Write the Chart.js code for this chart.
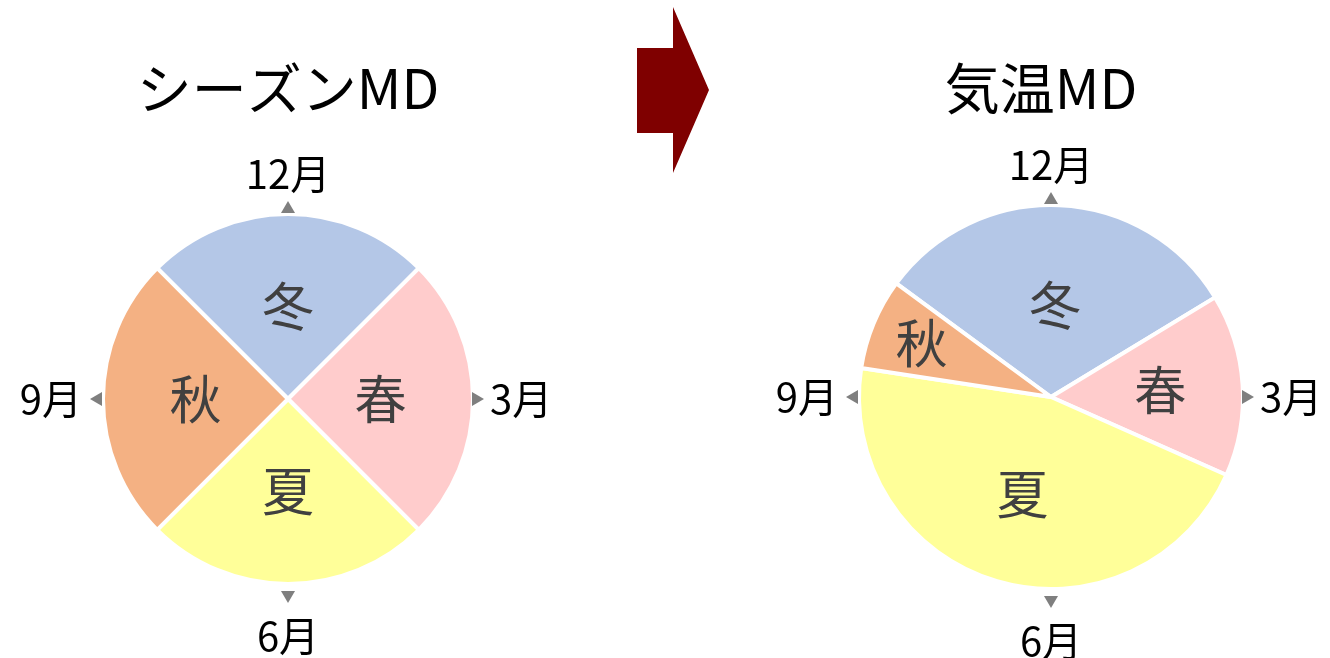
<!doctype html>
<html lang="ja">
  <head>
    <meta charset="utf-8">
    <title>シーズンMD → 気温MD</title>
    <style>
      * {
        margin: 0;
        padding: 0;
      }
      body {
        width: 1330px;
        height: 658px;
        background: #fff;
        position: relative;
        overflow: hidden;
      }
      .chartBox {
        position: absolute;
        top: 0;
        height: 658px;
      }
      #leftBox { left: 0; width: 600px; }
      #rightBox { left: 660px; width: 670px; }
      .arrow {
        position: absolute;
        left: 637px;
        top: 7px;
        width: 72px;
        height: 166px;
        background: #7f0000;
        clip-path: polygon(0 41px, 36px 41px, 36px 0, 72px 83px, 36px 166px, 36px 126px, 0 126px);
      }
    </style>
  </head>
  <body>
    <div class="chartBox" id="leftBox"><canvas id="seasonChart" width="600" height="658"></canvas></div>
    <div class="arrow"></div>
    <div class="chartBox" id="rightBox"><canvas id="tempChart" width="670" height="658"></canvas></div>

    <script src="https://cdn.jsdelivr.net/npm/chart.js/dist/chart.umd.min.js"></script>
    <script>
// data
const seasons = ['冬', '春', '夏', '秋'];
const seasonColors = ['#B4C7E7', '#FFCCCC', '#FFFF99', '#F4B183'];
const seasonMdMonths = [3, 3, 3, 3];          // シーズンMD: equal quarters
const tempMdDays = [114, 56, 167, 28];        // 気温MD: length of each season (days)
const monthTicks = ['12月', '3月', '6月', '9月']; // top, right, bottom, left

const FONT = '"Noto Sans CJK JP", "Noto Sans", sans-serif';

// draws titles, season names inside slices and the month markers round the pie
const seasonDecor = {
  id: 'seasonDecor',
  afterDatasetsDraw(chart, args, opts) {
    const ctx = chart.ctx;
    const arcs = chart.getDatasetMeta(0).data;
    const first = arcs[0].getProps(['x', 'y', 'outerRadius'], true);
    const cx = first.x, cy = first.y, R = first.outerRadius;

    ctx.save();
    ctx.textAlign = 'center';
    ctx.textBaseline = 'middle';

    // title
    ctx.fillStyle = '#000';
    ctx.font = '55px ' + FONT;
    ctx.fillText(opts.title, cx + opts.titleDx, 88);

    // season names
    ctx.fillStyle = '#404040';
    ctx.font = '52px ' + FONT;
    arcs.forEach((arc, i) => {
      const p = arc.getProps(['startAngle', 'endAngle'], true);
      const mid = (p.startAngle + p.endAngle) / 2;
      const r = R * opts.labelRadius[i];
      ctx.fillText(chart.data.labels[i], cx + Math.cos(mid) * r, cy + Math.sin(mid) * r);
    });

    // month markers
    const dirs = [[0, -1], [1, 0], [0, 1], [-1, 0]];
    const markGap = [7, 5, 13, 7];
    const textGap = [40, 17, 52, 21];
    ctx.font = '40px ' + FONT;
    dirs.forEach((d, i) => {
      const m = R + markGap[i];
      const tx = cx + d[0] * m, ty = cy + d[1] * m;
      const px = -d[1], py = d[0];
      ctx.fillStyle = '#7f7f7f';
      ctx.beginPath();
      ctx.moveTo(tx + d[0] * 6, ty + d[1] * 6);
      ctx.lineTo(tx - d[0] * 6 + px * 7, ty - d[1] * 6 + py * 7);
      ctx.lineTo(tx - d[0] * 6 - px * 7, ty - d[1] * 6 - py * 7);
      ctx.closePath();
      ctx.fill();

      ctx.fillStyle = '#000';
      const g = R + textGap[i];
      if (d[0] === 0) {
        ctx.textAlign = 'center';
        ctx.fillText(monthTicks[i], cx, cy + d[1] * g);
      } else {
        ctx.textAlign = d[0] > 0 ? 'left' : 'right';
        ctx.fillText(monthTicks[i], cx + d[0] * g, cy);
      }
    });
    ctx.restore();
  }
};

function makePie(id, values, rotation, radius, padding, decor) {
  return new Chart(document.getElementById(id), {
    type: 'pie',
    data: {
      labels: seasons,
      datasets: [{
        data: values,
        backgroundColor: seasonColors,
        borderColor: '#ffffff',
        borderWidth: 4
      }]
    },
    options: {
      responsive: false,
      animation: false,
      events: [],
      rotation: rotation,
      radius: radius,
      layout: { padding: padding },
      plugins: {
        legend: { display: false },
        tooltip: { enabled: false },
        seasonDecor: decor
      }
    },
    plugins: [seasonDecor]
  });
}

makePie('seasonChart', seasonMdMonths, -45, 185,
  { left: 104, right: 128, top: 215, bottom: 75 },
  { title: 'シーズンMD', titleDx: 0, labelRadius: [0.5, 0.5, 0.5, 0.5] });

makePie('tempChart', tempMdDays, -53.7, 192,
  { left: 200, right: 88, top: 206, bottom: 70 },
  { title: '気温MD', titleDx: -10, labelRadius: [0.48, 0.57, 0.53, 0.73] });
    </script>
  </body>
</html>
